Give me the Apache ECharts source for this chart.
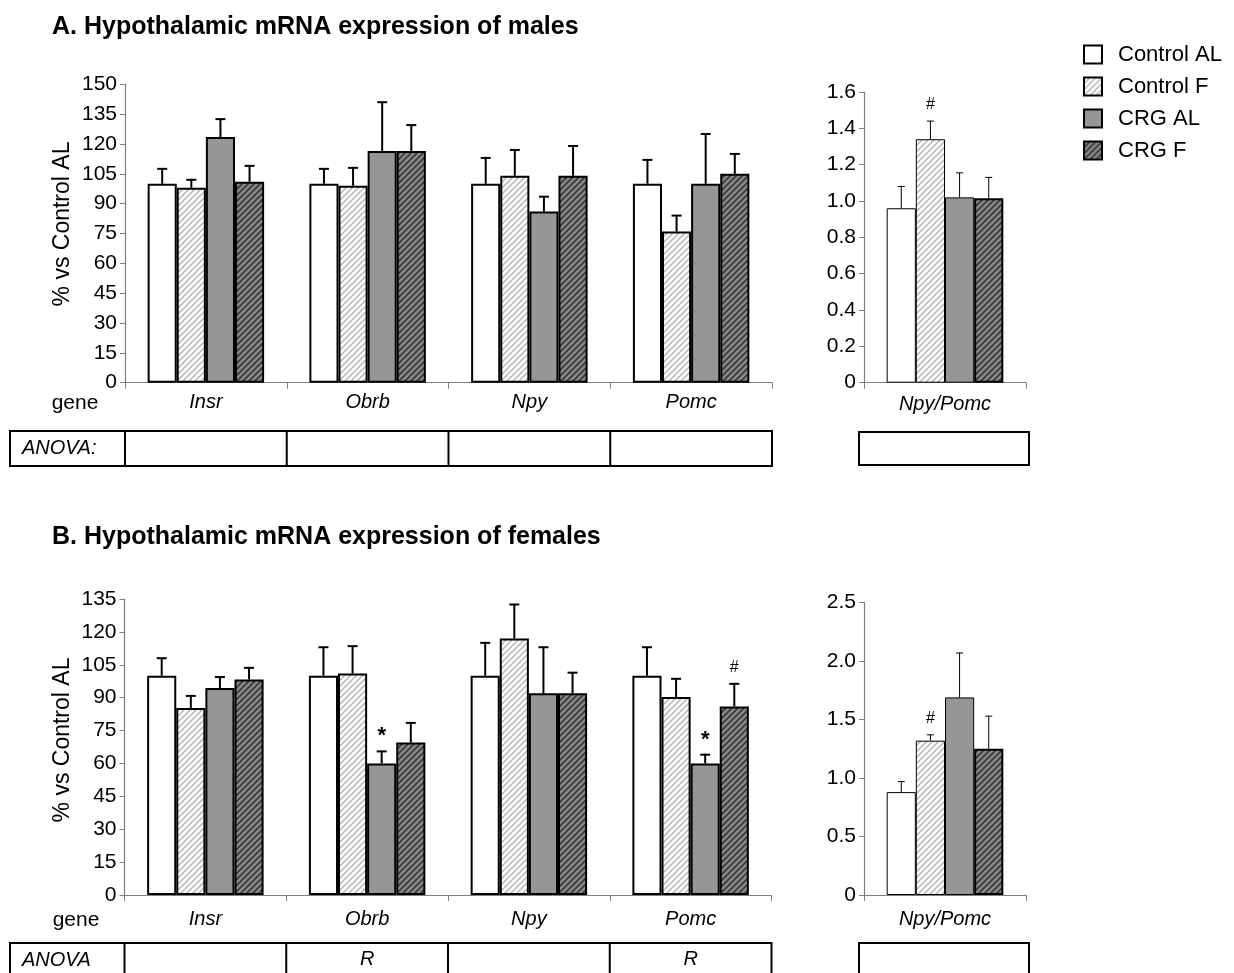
<!DOCTYPE html>
<html>
<head>
<meta charset="utf-8">
<script src="https://cdn.jsdelivr.net/npm/echarts@6/dist/echarts.min.js"></script>
<style>html,body{margin:0;padding:0;background:#fff}#c{width:1234px;height:973px}</style>
</head>
<body>
<div id="c"></div>
<script>
// ---------- data ----------
const genes = ['Insr', 'Obrb', 'Npy', 'Pomc'];
const ratioCat = ['Npy/Pomc'];
const groups = ['Control AL', 'Control F', 'CRG AL', 'CRG F'];

// Panel A (males) – % vs Control AL
const maleCtrlAL = [100, 100, 100, 100];
const maleCtrlF = [98, 99, 104, 76];
const maleCrgAL = [123.5, 116.5, 86, 100];
const maleCrgF = [101, 116.5, 104, 105];
const maleCtrlALErr = [7.5, 7.5, 13, 12];
const maleCtrlFErr = [4, 9, 13, 8];
const maleCrgALErr = [9, 24.5, 7.5, 25];
const maleCrgFErr = [8, 13, 15, 10];
const maleMarks = [['', '', '', ''], ['', '', '', ''], ['', '', '', ''], ['', '', '', '']];

// Panel A ratio Npy/Pomc
const maleRatio = [0.96, 1.34, 1.02, 1.015];
const maleRatioErr = [0.12, 0.10, 0.135, 0.115];
const maleRatioMarks = ['', '#', '', ''];

// Panel B (females) – % vs Control AL
const femCtrlAL = [100, 100, 100, 100];
const femCtrlF = [85.3, 101, 117, 90.3];
const femCrgAL = [94.4, 60, 92, 60];
const femCrgF = [98.3, 69.5, 92, 86];
const femCtrlALErr = [8, 13, 15, 13];
const femCtrlFErr = [5.5, 12.5, 15.5, 8.3];
const femCrgALErr = [5, 5.5, 21, 4];
const femCrgFErr = [5.3, 9, 9.4, 10.3];
const femMarks = [['', '', '', ''], ['', '', '', ''], ['', '*', '', '*'], ['', '', '', '#']];

// Panel B ratio Npy/Pomc
const femRatio = [0.88, 1.32, 1.69, 1.25];
const femRatioErr = [0.09, 0.05, 0.38, 0.28];
const femRatioMarks = ['', '#', '', ''];

// ANOVA rows
const anovaA = ['', '', '', ''];
const anovaB = ['', 'R', '', 'R'];
const anovaLabelA = 'ANOVA:';
const anovaLabelB = 'ANOVA';

const titleA = 'A. Hypothalamic mRNA expression of males';
const titleB = 'B. Hypothalamic mRNA expression of females';
const yNamePct = '% vs Control AL';

// ---------- styling helpers ----------
const FONT = "'Liberation Sans', Arial, sans-serif";
function stripes(bg, fg, lw) {
  const s = 6;
  const c = document.createElement('canvas');
  c.width = s; c.height = s;
  const x = c.getContext('2d');
  x.fillStyle = bg; x.fillRect(0, 0, s, s);
  x.strokeStyle = fg; x.lineWidth = lw;
  x.beginPath();
  x.moveTo(0, s); x.lineTo(s, 0);
  x.moveTo(-1, 1); x.lineTo(1, -1);
  x.moveTo(s - 1, s + 1); x.lineTo(s + 1, s - 1);
  x.stroke();
  return { image: c, repeat: 'repeat' };
}
const fills = ['#ffffff', stripes('#ffffff', '#bdbdbd', 1.6), '#969696', stripes('#8a8a8a', '#3a3a3a', 1.8)];

const grids = [
  { left: 125, top: 84.3, width: 647, height: 298.4 },
  { left: 864, top: 92, width: 162, height: 290.7 },
  { left: 124.5, top: 599, width: 647, height: 296 },
  { left: 864, top: 602.7, width: 162, height: 292.3 }
];
const GAP = 0.28;

const panels = [
  { cats: genes, means: [maleCtrlAL, maleCtrlF, maleCrgAL, maleCrgF], errs: [maleCtrlALErr, maleCtrlFErr, maleCrgALErr, maleCrgFErr], marks: maleMarks, thin: false },
  { cats: ratioCat, means: maleRatio.map(v => [v]), errs: maleRatioErr.map(v => [v]), marks: maleRatioMarks.map(v => [v]), thin: true },
  { cats: genes, means: [femCtrlAL, femCtrlF, femCrgAL, femCrgF], errs: [femCtrlALErr, femCtrlFErr, femCrgALErr, femCrgFErr], marks: femMarks, thin: false },
  { cats: ratioCat, means: femRatio.map(v => [v]), errs: femRatioErr.map(v => [v]), marks: femRatioMarks.map(v => [v]), thin: true }
];
const yAxesCfg = [
  { max: 150, interval: 15, fmt: v => String(v) },
  { max: 1.6, interval: 0.2, fmt: v => v === 0 ? '0' : v.toFixed(1) },
  { max: 135, interval: 15, fmt: v => String(v) },
  { max: 2.5, interval: 0.5, fmt: v => v === 0 ? '0' : v.toFixed(1) }
];
const labelMargins = [10, 12, 14, 14];

const xAxis = [], yAxis = [], series = [];
panels.forEach((p, g) => {
  xAxis.push({
    type: 'category', gridIndex: g, data: p.cats,
    axisLine: { lineStyle: { color: '#808080', width: 1.2 } },
    axisTick: { show: true, length: 6, lineStyle: { color: '#808080' } },
    axisLabel: { color: '#000', fontSize: 20, fontStyle: 'italic', fontFamily: FONT, margin: labelMargins[g], interval: 0 },
    splitLine: { show: false }
  });
  const yc = yAxesCfg[g];
  yAxis.push({
    type: 'value', gridIndex: g, min: 0, max: yc.max, interval: yc.interval,
    axisLine: { show: true, lineStyle: { color: '#808080', width: 1.2 } },
    axisTick: { show: true, length: 5, lineStyle: { color: '#808080' } },
    axisLabel: { color: '#000', fontSize: 21, fontFamily: FONT, margin: 8, formatter: yc.fmt },
    splitLine: { show: false }
  });
  groups.forEach((name, k) => {
    const bw = p.thin ? (k === 3 ? 2 : 1) : 2;
    series.push({
      type: 'bar', name, xAxisIndex: g, yAxisIndex: g,
      data: p.means[k], barGap: '0%', barCategoryGap: (GAP * 100) + '%',
      itemStyle: { color: fills[k], borderColor: '#000', borderWidth: bw },
      emphasis: { disabled: true }, z: 2
    });
  });
  const items = [];
  p.cats.forEach((c, ci) => {
    groups.forEach((name, k) => {
      items.push({ ci, k, v: p.means[k][ci], e: p.errs[k][ci], m: p.marks[k][ci] });
    });
  });
  const lw = p.thin ? 1 : 2;
  const capW = p.thin ? 7 : 10;
  series.push({
    type: 'custom', xAxisIndex: g, yAxisIndex: g, z: 5, silent: true,
    data: items.map(it => [it.ci, it.k, it.v, it.e]),
    renderItem: function (params, api) {
      const it = items[params.dataIndex];
      const catW = api.size([1, 0])[0];
      const barW = catW * (1 - GAP) / 4;
      const base = api.coord([it.ci, it.v]);
      const top = api.coord([it.ci, it.v + it.e]);
      const x = base[0] + (it.k - 1.5) * barW;
      const children = [
        { type: 'line', shape: { x1: x, y1: base[1], x2: x, y2: top[1] }, style: { stroke: '#000', lineWidth: lw } },
        { type: 'line', shape: { x1: x - capW / 2, y1: top[1], x2: x + capW / 2, y2: top[1] }, style: { stroke: '#000', lineWidth: lw } }
      ];
      if (it.m) {
        const star = it.m === '*';
        children.push({
          type: 'text', style: {
            text: it.m, x: x, y: top[1] - (star ? 15 : 16), align: 'center', verticalAlign: 'middle',
            fontSize: star ? 22 : 16, fontWeight: star ? 'bold' : 'normal', fontFamily: FONT, fill: '#000'
          }
        });
      }
      return { type: 'group', children };
    }
  });
});

// ---------- tables & extra text (layout only) ----------
const graphic = [];
function table(grid, top, bottom, labelText, cells, leftEdge) {
  const catW = grid.width / cells.length;
  graphic.push({ type: 'rect', shape: { x: leftEdge, y: top, width: grid.left + grid.width - leftEdge, height: bottom - top }, style: { fill: 'none', stroke: '#000', lineWidth: 2 } });
  for (let i = 0; i < cells.length; i++) {
    const xl = grid.left + i * catW;
    graphic.push({ type: 'line', shape: { x1: xl, y1: top, x2: xl, y2: bottom }, style: { stroke: '#000', lineWidth: 2 } });
    if (cells[i]) {
      graphic.push({ type: 'text', style: { text: cells[i], x: xl + catW / 2, y: top + 16, align: 'center', verticalAlign: 'middle', fontSize: 20, fontStyle: 'italic', fontFamily: FONT, fill: '#000' } });
    }
  }
  graphic.push({ type: 'text', style: { text: labelText, x: leftEdge + 12, y: top + 17, align: 'left', verticalAlign: 'middle', fontSize: 20, fontStyle: 'italic', fontFamily: FONT, fill: '#000' } });
}
table(grids[0], 431, 466, anovaLabelA, anovaA, 10);
table(grids[2], 943, 1000, anovaLabelB, anovaB, 10);
graphic.push({ type: 'rect', shape: { x: 859, y: 432, width: 170, height: 33 }, style: { fill: 'none', stroke: '#000', lineWidth: 2 } });
graphic.push({ type: 'rect', shape: { x: 859, y: 943, width: 170, height: 60 }, style: { fill: 'none', stroke: '#000', lineWidth: 2 } });
graphic.push({ type: 'text', style: { text: 'gene', x: 75, y: 403, align: 'center', verticalAlign: 'middle', fontSize: 21, fontFamily: FONT, fill: '#000' } });
graphic.push({ type: 'text', style: { text: 'gene', x: 76, y: 920, align: 'center', verticalAlign: 'middle', fontSize: 21, fontFamily: FONT, fill: '#000' } });
// y-axis names (rotated)
graphic.push({ type: 'text', x: 63, y: 224, rotation: Math.PI / 2, style: { text: yNamePct, align: 'center', verticalAlign: 'middle', fontSize: 23, fontFamily: FONT, fill: '#000' } });
graphic.push({ type: 'text', x: 63, y: 740, rotation: Math.PI / 2, style: { text: yNamePct, align: 'center', verticalAlign: 'middle', fontSize: 23, fontFamily: FONT, fill: '#000' } });

const chart = echarts.init(document.getElementById('c'), null, { renderer: 'canvas' });
chart.setOption({
  backgroundColor: '#fff',
  animation: false,
  title: [
    { text: titleA, left: 47, top: 10, textStyle: { fontSize: 25, fontWeight: 'bold', color: '#000', fontFamily: FONT } },
    { text: titleB, left: 47, top: 520, textStyle: { fontSize: 25, fontWeight: 'bold', color: '#000', fontFamily: FONT } }
  ],
  legend: {
    data: groups, orient: 'vertical', left: 1078, top: 38, icon: 'rect',
    itemWidth: 18, itemHeight: 18, itemGap: 9,
    textStyle: { fontSize: 22, color: '#000', fontFamily: FONT, padding: [0, 0, 0, 11], lineHeight: 23 }
  },
  grid: grids,
  xAxis, yAxis, series, graphic
});
</script>
</body>
</html>
